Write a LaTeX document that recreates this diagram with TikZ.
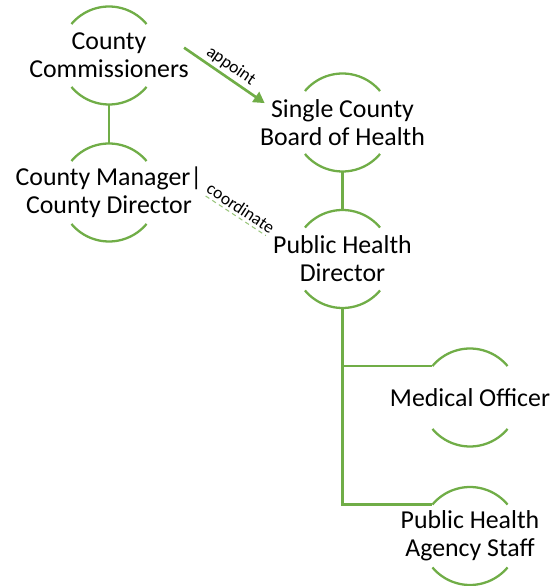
\documentclass[tikz,border=0pt]{standalone}
\usepackage{fontspec}
\setmainfont{Carlito}
\usetikzlibrary{arrows.meta}

\definecolor{orggreen}{HTML}{70AD47}

\tikzset{
  unit/.style={align=center,inner sep=0pt,font=\fontsize{14.7}{15.9}\selectfont},
  rim/.style={orggreen,line width=1.3pt},
  link/.style={orggreen,line width=1.3pt},
  tag/.style={text=black,font=\fontsize{10}{11}\selectfont,sloped,above,inner sep=1.5pt}
}

\begin{document}
\begin{tikzpicture}[x=1cm,y=1cm]
  \useasboundingbox (0,0) rectangle (11,11.72);

  \node[unit] (comm)  at (2.18,10.61) {County\\Commissioners};
  \node[unit] (mgr)   at (2.18,7.87)  {County Manager|\\County Director};
  \node[unit] (board) at (6.85,9.27)  {Single County\\Board of Health};
  \node[unit] (phd)   at (6.85,6.54)  {Public Health\\Director};
  \node[unit] (med)   at (9.4,3.77)   {Medical Officer};
  \node[unit] (staff) at (9.4,1.0)    {Public Health\\Agency Staff};

  % arcs above and below each title
  \foreach \n in {comm,mgr,board,phd,med,staff} {
    \draw[rim] ([shift={(140:0.98)}]\n.center) arc[start angle=140,end angle=40,radius=0.98];
    \draw[rim] ([shift={(220:0.98)}]\n.center) arc[start angle=220,end angle=320,radius=0.98];
  }

  \draw[link] ([yshift=-0.98cm]comm.center) -- ([yshift=0.98cm]mgr.center);
  \draw[link] ([yshift=-0.98cm]board.center) -- ([yshift=0.98cm]phd.center);
  \draw[link] ([yshift=-0.98cm]phd.center) |- ([shift={(140:0.98)}]med.center);
  \draw[link] ([yshift=-0.98cm]phd.center) |- ([shift={(140:0.98)}]staff.center);

  \draw[link,line width=1.5pt,-{Triangle[length=0.22cm,width=0.24cm]}]
    ([shift={(-0.1,-0.3)}]comm.north east) -- ([shift={(0.1,-0.08)}]board.north west)
    node[tag,midway] {appoint};
  \draw[orggreen!70,line width=0.6pt,dash pattern=on 2.5pt off 2pt]
    ([shift={(0.06,-0.07)}]mgr.east) -- ([xshift=-0.14cm]phd.north west)
    node[tag,midway] {coordinate};
\end{tikzpicture}
\end{document}
